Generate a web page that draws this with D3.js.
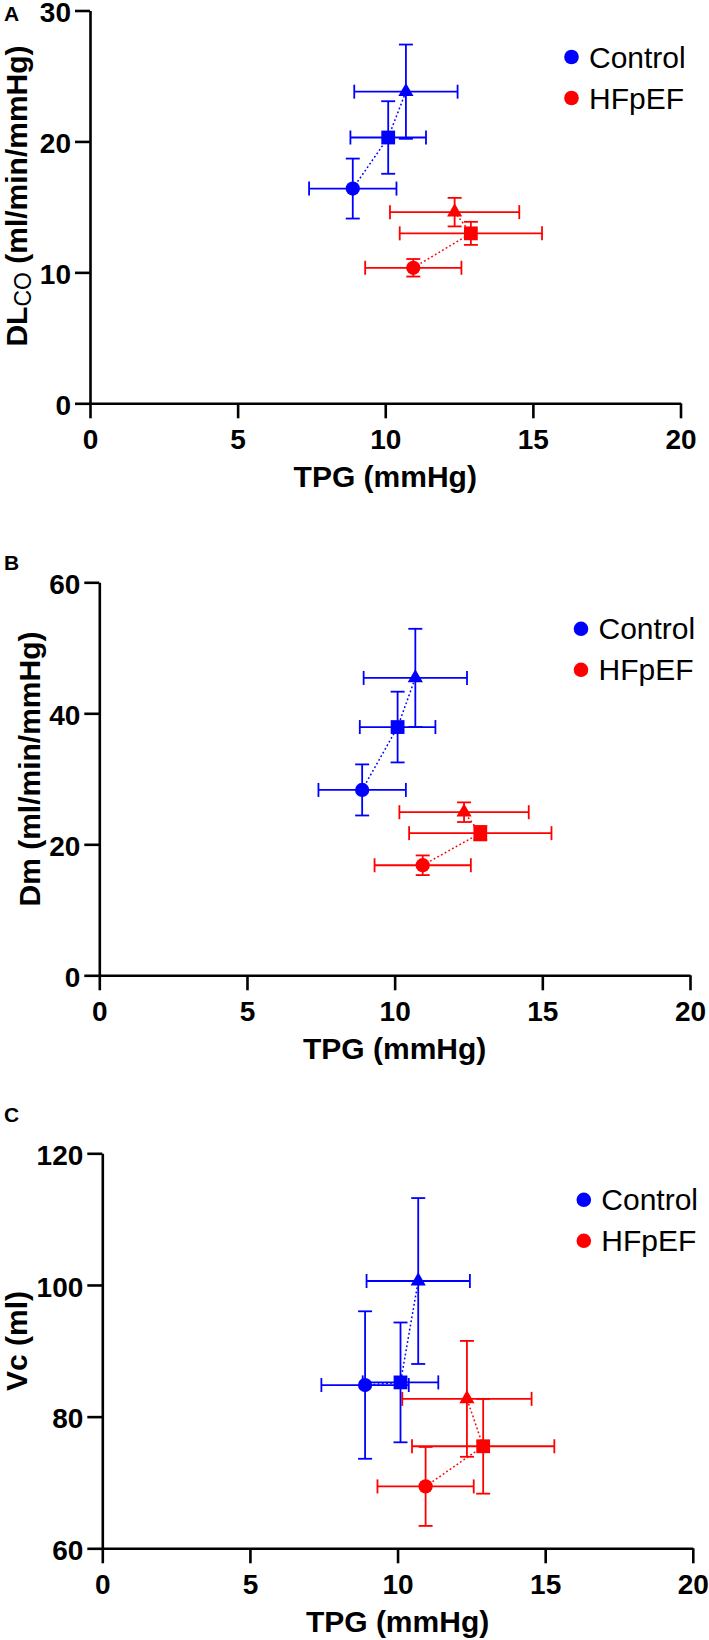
<!DOCTYPE html>
<html>
<head>
<meta charset="utf-8">
<script src="https://cdn.jsdelivr.net/npm/d3@7"></script>
<style>
  html, body { margin: 0; padding: 0; background: #fff; }
  svg { display: block; }
</style>
</head>
<body>
<svg id="chart" width="709" height="1640"></svg>
<script>
// ---------- DATA ----------
const seriesNames = ["Control", "HFpEF"];
const seriesColors = ["#0000ff", "#ff0000"];
const stages = ["circle", "square", "triangle"];

// TPG (x) shared across panels
const tpgControl = [8.9, 10.1, 10.7];
const tpgControlErr = [1.48, 1.28, 1.75];
const tpgHfpef = [10.95, 12.9, 12.35];
const tpgHfpefErr = [1.63, 2.41, 2.19];

// Panel A: DLCO
const dlcoControl = [16.4, 20.3, 23.8];
const dlcoControlErr = [2.29, 2.77, 3.6];
const dlcoHfpef = [10.35, 12.98, 14.6];
const dlcoHfpefErr = [0.67, 0.88, 1.09];

// Panel B: Dm
const dmControl = [28.3, 37.9, 45.4];
const dmControlErr = [3.9, 5.4, 7.5];
const dmHfpef = [16.8, 21.7, 24.9];
const dmHfpefErr = [1.5, 1.1, 1.5];

// Panel C: Vc
const vcControl = [84.8, 85.2, 100.6];
const vcControlErr = [11.2, 9.1, 12.6];
const vcHfpef = [69.4, 75.5, 82.7];
const vcHfpefErr = [6.0, 7.2, 8.8];

const xTicks = [0, 5, 10, 15, 20];
const yTicksA = [0, 10, 20, 30];
const yTicksB = [0, 20, 40, 60];
const yTicksC = [60, 80, 100, 120];
const panelLabels = ["A", "B", "C"];
const xTitle = "TPG (mmHg)";

// ---------- PANEL SETUP ----------
const panels = [
  { label: panelLabels[0], yTicks: yTicksA, y: [dlcoControl, dlcoHfpef], yErr: [dlcoControlErr, dlcoHfpefErr], title: "dlco" },
  { label: panelLabels[1], yTicks: yTicksB, y: [dmControl, dmHfpef], yErr: [dmControlErr, dmHfpefErr], title: "Dm (ml/min/mmHg)" },
  { label: panelLabels[2], yTicks: yTicksC, y: [vcControl, vcHfpef], yErr: [vcControlErr, vcHfpefErr], title: "Vc (ml)" }
];
const xs = [tpgControl, tpgHfpef];
const xErrs = [tpgControlErr, tpgHfpefErr];

const layout = [
  { left: 90,    top: 10.5,   bottom: 403.3,  right: 680.5, labelY: 21,   titleX: 27, titleY: 196 },
  { left: 99.3,  top: 582.3,  bottom: 975.3,  right: 690,   labelY: 570,  titleX: 40, titleY: 769 },
  { left: 102.3, top: 1153.3, bottom: 1548.3, right: 692.8, labelY: 1122, titleX: 27, titleY: 1341 }
];

const FONT = "'Liberation Sans', Arial, Helvetica, sans-serif";
const svg = d3.select("#chart");
svg.append("rect").attr("width", 709).attr("height", 1640).attr("fill", "#fff");

const symbolTypes = { circle: d3.symbolCircle, square: d3.symbolSquare, triangle: d3.symbolTriangle };
const symbolSizes = { circle: 160, square: 190, triangle: 100 };
const CAP = 7;

panels.forEach((p, i) => {
  const L = layout[i];
  const x = d3.scaleLinear().domain([xTicks[0], xTicks[xTicks.length - 1]]).range([L.left, L.right]);
  const y = d3.scaleLinear().domain([p.yTicks[0], p.yTicks[p.yTicks.length - 1]]).range([L.bottom, L.top]);
  const g = svg.append("g");

  // panel label
  g.append("text").attr("x", 4).attr("y", L.labelY)
    .attr("font-family", FONT).attr("font-weight", "bold").attr("font-size", 21)
    .text(p.label);

  // axes
  const xAxis = d3.axisBottom(x).tickValues(xTicks).tickSize(15).tickSizeOuter(0).tickPadding(11).tickFormat(d3.format("d"));
  const yAxis = d3.axisLeft(y).tickValues(p.yTicks).tickSize(15).tickSizeOuter(0).tickPadding(4).tickFormat(d3.format("d"));
  const gx = g.append("g").attr("transform", `translate(0,${L.bottom})`).call(xAxis);
  const gy = g.append("g").attr("transform", `translate(${L.left},0)`).call(yAxis);
  [gx, gy].forEach(ax => {
    ax.select(".domain").attr("stroke", "#000").attr("stroke-width", 2.6);
    ax.selectAll(".tick line").attr("stroke", "#000").attr("stroke-width", 2.6);
    ax.selectAll(".tick text").attr("font-family", FONT).attr("font-weight", "bold")
      .attr("font-size", 28).attr("fill", "#000");
  });
  gy.selectAll(".tick text").attr("dy", "0.4em");

  // x title
  g.append("text").attr("x", (L.left + L.right) / 2).attr("y", L.bottom + 84)
    .attr("text-anchor", "middle").attr("font-family", FONT).attr("font-weight", "bold")
    .attr("font-size", 30).text(xTitle);

  // y title
  const yt = g.append("text")
    .attr("transform", `translate(${L.titleX},${L.titleY}) rotate(-90)`)
    .attr("text-anchor", "middle").attr("font-family", FONT).attr("font-weight", "bold")
    .attr("font-size", 30);
  if (p.title === "dlco") {
    yt.append("tspan").text("DL");
    yt.append("tspan").attr("font-weight", "normal").attr("font-size", 23).attr("dy", 4).text("CO");
    yt.append("tspan").attr("dy", -4).text(" (ml/min/mmHg)");
  } else {
    yt.text(p.title);
  }

  // series
  [1, 0].forEach(s => {
    const color = seriesColors[s];
    const pts = stages.map((st, k) => ({
      st, x: xs[s][k], xe: xErrs[s][k], y: p.y[s][k], ye: p.yErr[s][k]
    }));
    const sg = g.append("g");

    // dotted connecting line
    sg.append("path").datum(pts)
      .attr("d", d3.line().x(d => x(d.x)).y(d => y(d.y)))
      .attr("fill", "none").attr("stroke", color).attr("stroke-width", 1.5)
      .attr("stroke-dasharray", "1.8,2.4");

    // error bars
    const eb = sg.selectAll("g.eb").data(pts).join("g").attr("class", "eb")
      .attr("stroke", color).attr("stroke-width", 1.8).attr("fill", "none");
    eb.append("line").attr("x1", d => x(d.x - d.xe)).attr("x2", d => x(d.x + d.xe))
      .attr("y1", d => y(d.y)).attr("y2", d => y(d.y));
    eb.append("line").attr("x1", d => x(d.x - d.xe)).attr("x2", d => x(d.x - d.xe))
      .attr("y1", d => y(d.y) - CAP).attr("y2", d => y(d.y) + CAP);
    eb.append("line").attr("x1", d => x(d.x + d.xe)).attr("x2", d => x(d.x + d.xe))
      .attr("y1", d => y(d.y) - CAP).attr("y2", d => y(d.y) + CAP);
    eb.append("line").attr("x1", d => x(d.x)).attr("x2", d => x(d.x))
      .attr("y1", d => y(d.y - d.ye)).attr("y2", d => y(d.y + d.ye));
    eb.append("line").attr("x1", d => x(d.x) - CAP).attr("x2", d => x(d.x) + CAP)
      .attr("y1", d => y(d.y - d.ye)).attr("y2", d => y(d.y - d.ye));
    eb.append("line").attr("x1", d => x(d.x) - CAP).attr("x2", d => x(d.x) + CAP)
      .attr("y1", d => y(d.y + d.ye)).attr("y2", d => y(d.y + d.ye));

    // markers
    sg.selectAll("path.mk").data(pts).join("path").attr("class", "mk")
      .attr("transform", d => `translate(${x(d.x)},${y(d.y)})`)
      .attr("d", d => d3.symbol().type(symbolTypes[d.st]).size(symbolSizes[d.st])())
      .attr("fill", color);
  });

  // legend
  const lg = g.append("g");
  seriesNames.forEach((name, s) => {
    const cy = L.top + 46.5 + s * 41;
    const cx = L.right - 109;
    lg.append("circle").attr("cx", cx).attr("cy", cy).attr("r", 7.3).attr("fill", seriesColors[s]);
    lg.append("text").attr("x", cx + 17.5).attr("y", cy + 10.5)
      .attr("font-family", FONT).attr("font-size", 30).attr("fill", "#000").text(name);
  });
});
</script>
</body>
</html>
